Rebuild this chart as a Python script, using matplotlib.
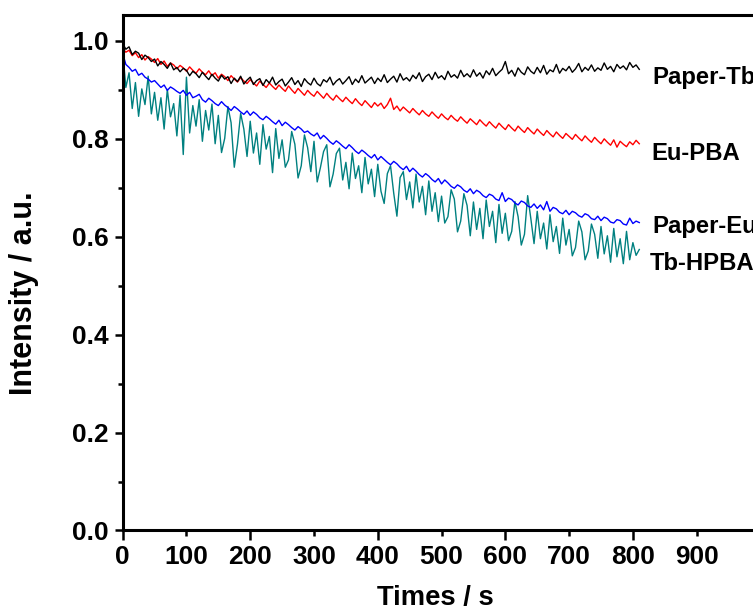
import numpy as np
import matplotlib
matplotlib.use('Agg')
import matplotlib.pyplot as plt
from matplotlib import font_manager

# === DATI ===
# tempo in secondi, un campione ogni 5 s
t = np.arange(0, 811, 5)

paper_tb = [0.995, 0.983, 0.988, 0.972, 0.979, 0.975, 0.962, 0.971, 0.966, 0.958,
            0.963, 0.949, 0.958, 0.952, 0.944, 0.955, 0.941, 0.946, 0.937, 0.944,
            0.940, 0.929, 0.938, 0.933, 0.925, 0.936, 0.928, 0.921, 0.932, 0.924,
            0.918, 0.930, 0.922, 0.927, 0.913, 0.924, 0.917, 0.928, 0.912, 0.920,
            0.926, 0.911, 0.919, 0.923, 0.909, 0.921, 0.914, 0.926, 0.910, 0.917,
            0.922, 0.908, 0.916, 0.925, 0.911, 0.919, 0.907, 0.923, 0.915, 0.910,
            0.924, 0.913, 0.908, 0.921, 0.916, 0.926, 0.910, 0.918, 0.923, 0.912,
            0.919, 0.927, 0.911, 0.922, 0.915, 0.929, 0.914, 0.920, 0.926, 0.913,
            0.924, 0.917, 0.931, 0.915, 0.922, 0.928, 0.916, 0.933, 0.920, 0.925,
            0.918, 0.930, 0.923, 0.935, 0.917, 0.927, 0.932, 0.921, 0.936, 0.924,
            0.929, 0.921, 0.938, 0.926, 0.931, 0.924, 0.940, 0.927, 0.933, 0.926,
            0.941, 0.928, 0.935, 0.924, 0.939, 0.931, 0.944, 0.929, 0.936, 0.942,
            0.958, 0.933, 0.940, 0.928, 0.945, 0.936, 0.931, 0.947, 0.938, 0.933,
            0.946, 0.935, 0.950, 0.932, 0.941, 0.937, 0.952, 0.934, 0.944, 0.939,
            0.948, 0.936, 0.943, 0.954, 0.937, 0.946, 0.940, 0.951, 0.938, 0.945,
            0.940, 0.955, 0.942, 0.948, 0.937, 0.952, 0.944, 0.949, 0.941, 0.956,
            0.946, 0.951, 0.942]

eu_pba = [0.985, 0.977, 0.981, 0.970, 0.976, 0.966, 0.972, 0.961, 0.968, 0.963,
          0.956, 0.964, 0.952, 0.959, 0.948, 0.955, 0.951, 0.943, 0.950, 0.945,
          0.938, 0.947, 0.940, 0.934, 0.943, 0.936, 0.931, 0.939, 0.929, 0.935,
          0.924, 0.932, 0.927, 0.919, 0.929, 0.922, 0.916, 0.925, 0.918, 0.913,
          0.921, 0.914, 0.908, 0.918, 0.911, 0.905, 0.914, 0.907, 0.901, 0.910,
          0.903, 0.897, 0.908, 0.900, 0.893, 0.903, 0.896, 0.889, 0.899, 0.892,
          0.887, 0.897, 0.890, 0.883, 0.893, 0.885, 0.879, 0.889, 0.882, 0.876,
          0.885, 0.878, 0.872, 0.882, 0.874, 0.868, 0.878, 0.871, 0.864, 0.874,
          0.867, 0.873, 0.862, 0.870, 0.883, 0.860, 0.867, 0.857, 0.865, 0.859,
          0.853, 0.862, 0.855, 0.849, 0.858, 0.851, 0.846, 0.855, 0.848, 0.842,
          0.851, 0.844, 0.839, 0.848, 0.841, 0.836, 0.845, 0.838, 0.832, 0.841,
          0.835, 0.829, 0.839, 0.832, 0.826, 0.835, 0.828, 0.822, 0.832, 0.825,
          0.819, 0.829, 0.822, 0.816, 0.826, 0.819, 0.813, 0.823, 0.816, 0.810,
          0.820, 0.813, 0.807, 0.817, 0.810, 0.804, 0.814, 0.807, 0.801, 0.811,
          0.805, 0.799, 0.809, 0.802, 0.796, 0.806, 0.799, 0.793, 0.803, 0.796,
          0.790, 0.800, 0.793, 0.787, 0.798, 0.783, 0.795, 0.789, 0.784, 0.794,
          0.788, 0.797, 0.790]

paper_eu = [0.975, 0.952, 0.946, 0.938, 0.942, 0.930, 0.934, 0.926, 0.922, 0.916,
            0.919, 0.912, 0.905, 0.910, 0.899, 0.906, 0.902, 0.897, 0.893, 0.899,
            0.889, 0.895, 0.884, 0.887, 0.891, 0.880, 0.875, 0.883, 0.878, 0.872,
            0.868, 0.876, 0.869, 0.864, 0.858, 0.866, 0.861, 0.855, 0.850, 0.857,
            0.848, 0.855, 0.850, 0.843, 0.839, 0.846, 0.841, 0.835, 0.830, 0.838,
            0.827, 0.834, 0.829, 0.823, 0.818, 0.825, 0.820, 0.813, 0.816, 0.810,
            0.806, 0.812, 0.800, 0.807, 0.801, 0.794, 0.789, 0.796, 0.791, 0.785,
            0.780, 0.788, 0.782, 0.775, 0.770, 0.777, 0.772, 0.766, 0.761, 0.768,
            0.757, 0.764, 0.758, 0.752, 0.747, 0.754, 0.749, 0.742, 0.737, 0.744,
            0.733, 0.740, 0.734, 0.727, 0.722, 0.729, 0.724, 0.717, 0.712, 0.719,
            0.708, 0.716, 0.710, 0.703, 0.699, 0.706, 0.702, 0.695, 0.691, 0.698,
            0.688, 0.695, 0.691, 0.684, 0.680, 0.687, 0.684, 0.677, 0.674, 0.690,
            0.672, 0.679, 0.676, 0.669, 0.665, 0.673, 0.670, 0.663, 0.660, 0.667,
            0.658, 0.665, 0.655, 0.672, 0.652, 0.660, 0.657, 0.650, 0.647, 0.654,
            0.645, 0.652, 0.649, 0.643, 0.640, 0.647, 0.644, 0.637, 0.635, 0.642,
            0.633, 0.640, 0.637, 0.630, 0.628, 0.635, 0.633, 0.626, 0.624, 0.638,
            0.627, 0.632, 0.629]

tb_hpba = [0.980, 0.905, 0.935, 0.862, 0.915, 0.846, 0.902, 0.870, 0.928, 0.851,
           0.895, 0.838, 0.884, 0.820, 0.901, 0.845, 0.872, 0.806, 0.889, 0.768,
           0.926, 0.812, 0.868, 0.826, 0.880, 0.795, 0.858, 0.818, 0.871, 0.790,
           0.848, 0.772, 0.801, 0.866, 0.833, 0.742, 0.789, 0.852, 0.820, 0.764,
           0.836, 0.771, 0.812, 0.748, 0.829, 0.779, 0.805, 0.731, 0.821, 0.760,
           0.798, 0.742, 0.757, 0.815, 0.789, 0.720, 0.745, 0.808, 0.782, 0.733,
           0.795, 0.712, 0.741, 0.774, 0.788, 0.702, 0.728, 0.770, 0.781, 0.716,
           0.752, 0.698, 0.771, 0.719, 0.745, 0.690, 0.762, 0.708, 0.738, 0.682,
           0.748, 0.693, 0.668, 0.729, 0.745, 0.689, 0.642, 0.721, 0.733, 0.676,
           0.712, 0.659, 0.728, 0.671, 0.703, 0.645, 0.714, 0.652, 0.690, 0.631,
           0.683, 0.628, 0.641, 0.696, 0.677, 0.610, 0.632, 0.688, 0.664, 0.602,
           0.671, 0.615, 0.658, 0.596, 0.675, 0.621, 0.652, 0.588, 0.666, 0.607,
           0.648, 0.592, 0.611, 0.672, 0.641, 0.583, 0.605, 0.684, 0.637, 0.586,
           0.652, 0.596, 0.628, 0.575, 0.645, 0.590, 0.621, 0.566, 0.638, 0.583,
           0.615, 0.561, 0.578, 0.632, 0.610, 0.553, 0.571, 0.626, 0.605, 0.556,
           0.621, 0.565, 0.602, 0.548, 0.617, 0.559, 0.596, 0.545, 0.611, 0.553,
           0.588, 0.562, 0.574]

x_major = [0, 200, 400, 600, 800]
x_minor = [100, 300, 500, 700, 900]
y_major = [0.0, 0.2, 0.4, 0.6, 0.8, 1.0]
y_minor = [0.1, 0.3, 0.5, 0.7, 0.9]

# === FONT ===
nomi = {f.name for f in font_manager.fontManager.ttflist}
if 'Liberation Sans Narrow' in nomi:
    FONT_H = 'Liberation Sans Narrow'
    scala = 1.0
else:
    FONT_H = 'Liberation Sans'
    scala = 0.82
FONT_V = 'Liberation Sans'

TICK_FS = 23 * scala
SERIE_FS = 21 * scala
XLAB_FS = 24 * scala
YLAB_FS = 22

fig = plt.figure(figsize=(7.53, 6.12), dpi=100)
ax = fig.add_axes([0.1629, 0.1332, 0.8470, 0.8423])

ax.plot(t, tb_hpba, color='#008080', lw=1.0)
ax.plot(t, paper_eu, color='#0000ff', lw=1.0)
ax.plot(t, eu_pba, color='#ff0000', lw=1.0)
ax.plot(t, paper_tb, color='#000000', lw=1.0)

ax.set_xlim(0, 1000)
ax.set_ylim(0, 1.053)

for s in ax.spines.values():
    s.set_linewidth(2.2)

# tick X: lunghi ogni 200, corti ogni 100, tutti etichettati
ax.set_xticks(x_major)
ax.set_xticklabels([str(v) for v in x_major])
ax.set_xticks(x_minor, minor=True)
ax.set_xticklabels([str(v) for v in x_minor], minor=True)
ax.tick_params(axis='x', which='major', direction='out', length=7, width=1.8, pad=3.5)
ax.tick_params(axis='x', which='minor', direction='out', length=4.5, width=1.8, pad=6)

ax.set_yticks(y_major)
ax.set_yticklabels(['%.1f' % v for v in y_major])
ax.set_yticks(y_minor, minor=True)
ax.tick_params(axis='y', which='major', direction='out', length=6, width=1.8, pad=4)
ax.tick_params(axis='y', which='minor', direction='out', length=3.6, width=1.8)
ax.tick_params(top=False, right=False, which='both')

for lab in ax.get_xticklabels() + ax.get_xticklabels(minor=True) + ax.get_yticklabels():
    lab.set_fontfamily(FONT_H)
    lab.set_fontweight('bold')
    lab.set_fontsize(TICK_FS)

ax.set_xlabel('Times / s', fontfamily=FONT_H, fontweight='bold', fontsize=XLAB_FS)
ax.xaxis.set_label_coords(0.4905, -0.105)
ax.set_ylabel('Intensity / a.u.', fontfamily=FONT_V, fontweight='bold', fontsize=YLAB_FS)
ax.yaxis.set_label_coords(-0.131, 0.46)

# etichette delle curve (tagliate dal bordo destro come nell'originale)
etichette = [('Paper-Tb', 831, 0.913), ('Eu-PBA', 829, 0.756),
             ('Paper-Eu', 831, 0.607), ('Tb-HPBA', 826, 0.532)]
for testo, xx, yy in etichette:
    ax.text(xx, yy, testo, fontfamily=FONT_H, fontweight='bold', fontsize=SERIE_FS,
            ha='left', va='baseline', clip_on=False)

fig.savefig('out.png', dpi=100)
